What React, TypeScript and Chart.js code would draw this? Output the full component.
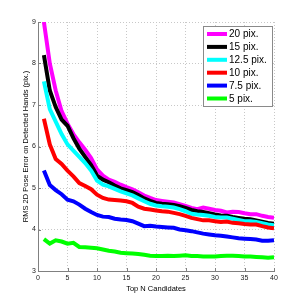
import React, { useEffect, useRef } from "react";
import { Chart, registerables } from "chart.js";

Chart.register(...registerables);

const topN = Array.from({ length: 40 }, (_, i) => i + 1);

const seriesLabels = ["20 pix.", "15 pix.", "12.5 pix.", "10 pix.", "7.5 pix.", "5 pix."];
const seriesColors = ["#ff00ff", "#000000", "#00ffff", "#ff0000", "#0000ff", "#00ff00"];

const pix20 = [9.0, 8.0, 7.35, 6.85, 6.55, 6.3, 6.1, 5.92, 5.72, 5.45, 5.3, 5.2, 5.15, 5.08, 5.02, 4.97, 4.9, 4.82, 4.76, 4.71, 4.69, 4.67, 4.65, 4.61, 4.57, 4.52, 4.49, 4.53, 4.5, 4.47, 4.45, 4.41, 4.43, 4.42, 4.39, 4.37, 4.37, 4.33, 4.3, 4.28];
const pix15 = [8.2, 7.35, 6.95, 6.65, 6.5, 6.2, 5.95, 5.75, 5.55, 5.3, 5.2, 5.14, 5.06, 4.99, 4.95, 4.9, 4.83, 4.75, 4.69, 4.64, 4.62, 4.61, 4.59, 4.56, 4.52, 4.47, 4.44, 4.42, 4.39, 4.36, 4.34, 4.33, 4.3, 4.28, 4.26, 4.25, 4.22, 4.19, 4.16, 4.14];
const pix12_5 = [7.57, 6.9, 6.6, 6.3, 6.05, 5.9, 5.75, 5.6, 5.42, 5.18, 5.08, 5.04, 4.98, 4.92, 4.87, 4.82, 4.75, 4.68, 4.62, 4.58, 4.56, 4.55, 4.53, 4.49, 4.44, 4.38, 4.36, 4.35, 4.33, 4.3, 4.29, 4.29, 4.26, 4.23, 4.2, 4.2, 4.18, 4.15, 4.12, 4.1];
const pix10 = [6.67, 6.05, 5.7, 5.58, 5.42, 5.28, 5.12, 5.05, 4.97, 4.84, 4.76, 4.72, 4.71, 4.7, 4.68, 4.64, 4.55, 4.5, 4.48, 4.46, 4.44, 4.43, 4.4, 4.37, 4.33, 4.28, 4.25, 4.22, 4.22, 4.2, 4.18, 4.19, 4.16, 4.15, 4.13, 4.12, 4.12, 4.08, 4.05, 4.03];
const pix7_5 = [5.42, 5.07, 4.95, 4.85, 4.72, 4.68, 4.6, 4.5, 4.42, 4.35, 4.31, 4.3, 4.26, 4.24, 4.23, 4.2, 4.14, 4.08, 4.09, 4.07, 4.06, 4.05, 4.04, 4.0, 3.98, 3.96, 3.93, 3.9, 3.88, 3.86, 3.85, 3.83, 3.81, 3.79, 3.78, 3.77, 3.76, 3.73, 3.73, 3.74];
const pix5 = [3.77, 3.66, 3.74, 3.71, 3.66, 3.68, 3.58, 3.57, 3.56, 3.55, 3.52, 3.49, 3.47, 3.44, 3.43, 3.42, 3.41, 3.39, 3.37, 3.36, 3.36, 3.37, 3.36, 3.37, 3.38, 3.36, 3.36, 3.35, 3.35, 3.35, 3.36, 3.37, 3.37, 3.36, 3.35, 3.35, 3.34, 3.33, 3.32, 3.33];

const seriesValues = [pix20, pix15, pix12_5, pix10, pix7_5, pix5];

const xTitle = "Top N Candidates";
const yTitle = "RMS 2D Pose Error on Detected Hands (pix.)";

const FONT = "'Liberation Sans', Arial, Helvetica, sans-serif";

const insideTicks = {
  id: "insideTicks",
  afterDatasetsDraw(chart: any) {
    const { ctx, chartArea, scales } = chart;
    ctx.save();
    ctx.strokeStyle = "#808080";
    ctx.lineWidth = 1;
    ctx.beginPath();
    scales.x.ticks.forEach((t: any) => {
      const x = Math.round(scales.x.getPixelForValue(t.value)) + 0.5;
      ctx.moveTo(x, chartArea.bottom);
      ctx.lineTo(x, chartArea.bottom - 3);
    });
    scales.y.ticks.forEach((t: any) => {
      const y = Math.round(scales.y.getPixelForValue(t.value)) + 0.5;
      ctx.moveTo(chartArea.left, y);
      ctx.lineTo(chartArea.left + 3, y);
    });
    ctx.stroke();
    ctx.restore();
  },
};

const boxLegend = {
  id: "boxLegend",
  afterDraw(chart: any) {
    const { ctx, chartArea } = chart;
    const left = 203.5;
    const top = 26.5;
    const w = 69;
    const h = 80;
    ctx.save();
    ctx.fillStyle = "#ffffff";
    ctx.fillRect(left, top, w, h);
    ctx.strokeStyle = "#8a8a8a";
    ctx.lineWidth = 1;
    ctx.strokeRect(left, top, w, h);
    ctx.font = `10px ${FONT}`;
    ctx.textBaseline = "middle";
    ctx.textAlign = "left";
    chart.data.datasets.forEach((ds: any, i: number) => {
      const y = 34 + i * 12.9;
      ctx.strokeStyle = ds.borderColor;
      ctx.lineWidth = 4;
      ctx.beginPath();
      ctx.moveTo(207, y);
      ctx.lineTo(227, y);
      ctx.stroke();
      ctx.fillStyle = "#000000";
      ctx.fillText(ds.label, 229, y + 0.5);
    });
    ctx.restore();
  },
};

export default function App() {
  const ref = useRef<HTMLCanvasElement | null>(null);
  useEffect(() => {
    if (!ref.current) return;
    const chart = new Chart(ref.current, {
      type: "line",
      data: {
        labels: topN,
        datasets: seriesValues.map((vals, i) => ({
          label: seriesLabels[i],
          data: vals.map((v, j) => ({ x: topN[j], y: v })),
          borderColor: seriesColors[i],
          backgroundColor: seriesColors[i],
          borderWidth: 4,
          pointRadius: 0,
          tension: 0,
          fill: false,
          order: seriesValues.length - i,
        })),
      },
      options: {
        responsive: false,
        animation: false,
        layout: { padding: { top: 22, right: 25, left: 0, bottom: 0 } },
        plugins: {
          legend: { display: false },
          tooltip: { enabled: false },
          title: { display: false },
        },
        scales: {
          x: {
            type: "linear",
            min: 0,
            max: 40,
            ticks: {
              stepSize: 5,
              color: "#222",
              font: { family: FONT, size: 7 },
              padding: 3,
              maxRotation: 0,
            },
            grid: { color: "#c8c8c8", drawTicks: false },
            border: { display: true, color: "#808080", width: 1, dash: [1, 2] },
            title: {
              display: true,
              text: xTitle,
              color: "#000",
              font: { family: FONT, size: 7.5 },
              padding: { top: 0, bottom: 7.5 },
            },
            afterFit(scale: any) {
              scale.height = 30;
            },
          },
          y: {
            type: "linear",
            min: 3,
            max: 9,
            ticks: {
              stepSize: 1,
              color: "#222",
              font: { family: FONT, size: 7 },
              padding: 2,
            },
            grid: { color: "#c8c8c8", drawTicks: false },
            border: { display: true, color: "#808080", width: 1, dash: [1, 2] },
            title: {
              display: true,
              text: yTitle,
              color: "#000",
              font: { family: FONT, size: 7.5 },
              padding: { top: 21.5, bottom: 0 },
            },
            afterFit(scale: any) {
              scale.width = 38;
            },
          },
        },
      },
      plugins: [insideTicks, boxLegend],
    });
    return () => chart.destroy();
  }, []);
  return (
    <div style={{ position: "fixed", left: 0, top: 0, width: 299, height: 301, background: "#fff" }}>
      <canvas ref={ref} width={299} height={301} style={{ display: "block" }} />
    </div>
  );
}
